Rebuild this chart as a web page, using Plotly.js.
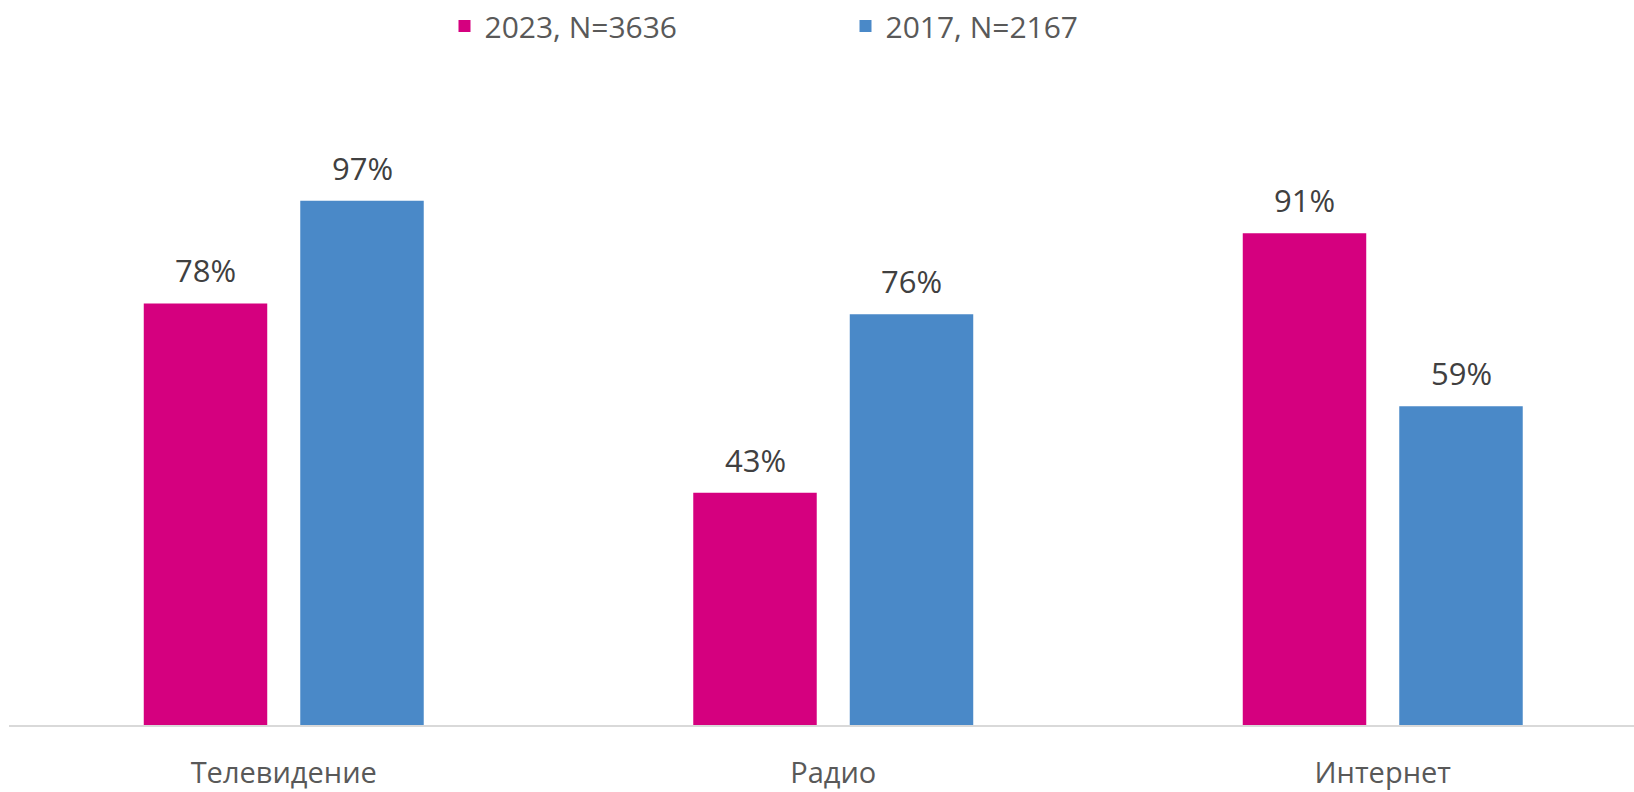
<!DOCTYPE html>
<html>
<head>
<meta charset="utf-8">
<script src="https://cdn.plot.ly/plotly-3.0.1.min.js"></script>
<style>html,body{margin:0;padding:0;background:#fff;}#chart{width:1634px;height:792px;}</style>
</head>
<body>
<div id="chart"></div>
<script>
const categories = ['Телевидение', 'Радио', 'Интернет'];
const series2023 = [78, 43, 91];
const series2017 = [97, 76, 59];
const seriesNames = ['2023, N=3636', '2017, N=2167'];
const colors = ['#D5007F', '#4A89C8'];

const bargap = 0.4304, bargroupgap = 0.211;
const slot = (1 - bargap) / 2;
const offsets = [-slot / 2, slot / 2];

const traces = [series2023, series2017].map((vals, k) => ({
  type: 'bar',
  name: seriesNames[k],
  x: categories,
  y: vals,
  marker: {color: colors[k], line: {width: 0}},
  hoverinfo: 'none'
}));

const annotations = [];
[series2023, series2017].forEach((vals, k) => {
  vals.forEach((v, i) => {
    annotations.push({
      x: i + offsets[k], y: v, xref: 'x', yref: 'y',
      text: v + '%', showarrow: false,
      yanchor: 'bottom', yshift: 10,
      font: {family: 'Open Sans', size: 31, color: '#404040'}
    });
  });
});

const layout = {
  width: 1634, height: 792,
  margin: {l: 9, r: 0, t: 50, b: 67},
  paper_bgcolor: '#fff', plot_bgcolor: '#fff',
  barmode: 'group', bargap: bargap, bargroupgap: bargroupgap,
  showlegend: true,
  legend: {
    orientation: 'h', x: 0.268, xanchor: 'left', y: 1, yref: 'container', yanchor: 'top',
    font: {family: 'Open Sans', size: 30, color: '#595959'},
    entrywidth: 356, entrywidthmode: 'pixels', itemclick: false
  },
  xaxis: {
    type: 'category', range: [-0.5, -0.5 + 1625 / 549.5],
    showline: true, linecolor: '#D9D9D9', linewidth: 2,
    showgrid: false, zeroline: false, ticks: '', ticklabelstandoff: 21,
    tickfont: {family: 'Open Sans', size: 29, color: '#595959'}
  },
  yaxis: {
    range: [0, 675 / 5.42], visible: false, showgrid: false, zeroline: false
  },
  annotations: annotations
};

Plotly.newPlot('chart', traces, layout, {displayModeBar: false, staticPlot: true});
</script>
</body>
</html>
